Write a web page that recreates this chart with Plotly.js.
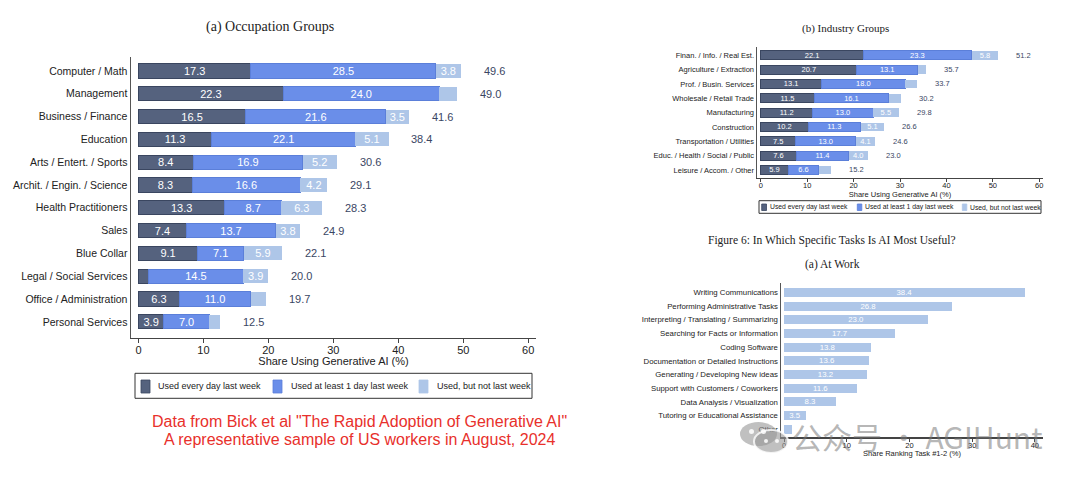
<!DOCTYPE html>
<html><head><meta charset="utf-8">
<script src="https://cdn.plot.ly/plotly-3.0.1.min.js"></script>
<style>html,body{margin:0;padding:0;background:#fff}#chart{width:1080px;height:482px}</style>
</head><body><div id="chart"></div>
<script>
// ---------- (a) Occupation Groups ----------
const occCategories = ["Computer / Math","Management","Business / Finance","Education","Arts / Entert. / Sports","Archit. / Engin. / Science","Health Practitioners","Sales","Blue Collar","Legal / Social Services","Office / Administration","Personal Services"];
const occDaily   = [17.3,22.3,16.5,11.3,8.4,8.3,13.3,7.4,9.1,1.6,6.3,3.9];
const occWeekly  = [28.5,24.0,21.6,22.1,16.9,16.6,8.7,13.7,7.1,14.5,11.0,7.0];
const occNotLast = [3.8,2.7,3.5,5.1,5.2,4.2,6.3,3.8,5.9,3.9,2.4,1.6];
const occTotal   = [49.6,49.0,41.6,38.4,30.6,29.1,28.3,24.9,22.1,20.0,19.7,12.5];

// ---------- (b) Industry Groups ----------
const indCategories = ["Finan. / Info. / Real Est.","Agriculture / Extraction","Prof. / Busin. Services","Wholesale / Retail Trade","Manufacturing","Construction","Transportation / Utilities","Educ. / Health / Social / Public","Leisure / Accom. / Other"];
const indDaily   = [22.1,20.7,13.1,11.5,11.2,10.2,7.5,7.6,5.9];
const indWeekly  = [23.3,13.1,18.0,16.1,13.0,11.3,13.0,11.4,6.6];
const indNotLast = [5.8,1.9,2.6,2.6,5.5,5.1,4.1,4.0,2.7];
const indTotal   = [51.2,35.7,33.7,30.2,29.8,26.6,24.6,23.0,15.2];

// ---------- Figure 6 (a) At Work ----------
const taskCategories = ["Writing Communications","Performing Administrative Tasks","Interpreting / Translating / Summarizing","Searching for Facts or Information","Coding Software","Documentation or Detailed Instructions","Generating / Developing New ideas","Support with Customers / Coworkers","Data Analysis / Visualization","Tutoring or Educational Assistance","Other"];
const taskShare = [38.4,26.8,23.0,17.7,13.8,13.6,13.2,11.6,8.3,3.5,1.3];

const seriesNames = ["Used every day last week","Used at least 1 day last week","Used, but not last week"];
const xTicksA = [0,10,20,30,40,50,60];
const xTicksC = [0,10,20,30,40];

const C_DARK = '#55627e', C_MID = '#6a8ee9', C_LIGHT = '#aec6e8';
const C_COLORS = [C_DARK, C_MID, C_LIGHT];
const C_LINES = ['#3a4660', '#5b7fd9', '#aec6e8'];
const SANS = 'Liberation Sans, Arial, sans-serif';
const SERIF = 'Liberation Serif, DejaVu Serif, serif';
const W = 1080, H = 482;
const px = v => v / W, py = v => 1 - v / H;
const lbl = arr => arr.map(v => v >= 3 ? v.toFixed(1) : '');

function stackTraces(cats, vals, xa, ya, fs, bw) {
  return vals.map((v, k) => ({
    type: 'bar', orientation: 'h', x: v, y: cats, xaxis: xa, yaxis: ya,
    name: seriesNames[k], showlegend: false,
    marker: {color: C_COLORS[k], line: {color: C_LINES[k], width: k === 2 ? 0 : 1}},
    text: lbl(v), textposition: 'inside', insidetextanchor: 'middle',
    textangle: 0, constraintext: 'none',
    textfont: {color: '#ffffff', size: fs, family: SANS},
    width: bw, hoverinfo: 'skip'
  }));
}

const traces = [
  ...stackTraces(occCategories, [occDaily, occWeekly, occNotLast], 'x', 'y', 11, 0.62),
  ...stackTraces(indCategories, [indDaily, indWeekly, indNotLast], 'x2', 'y2', 7.5, 0.62),
  {type: 'bar', orientation: 'h', x: taskShare, y: taskCategories, xaxis: 'x3', yaxis: 'y3',
   showlegend: false, marker: {color: C_LIGHT},
   text: lbl(taskShare), textposition: 'inside', insidetextanchor: 'middle', textangle: 0,
   constraintext: 'none', textfont: {color: '#ffffff', size: 7.8, family: SANS},
   width: 0.66, hoverinfo: 'skip'}
];

function ptext(x, y, text, font, xanchor) {
  return {xref: 'paper', yref: 'paper', x: px(x), y: py(y), text: text, showarrow: false,
    xanchor: xanchor || 'center', yanchor: 'middle', font: font};
}

const annotations = [
  ...occTotal.map((t, i) => ({xref: 'x', yref: 'y', x: t, y: occCategories[i], text: t.toFixed(1),
    showarrow: false, xanchor: 'left', yanchor: 'middle', xshift: 21, font: {size: 11, color: '#3a4663', family: SANS}})),
  ...indTotal.map((t, i) => ({xref: 'x2', yref: 'y2', x: t, y: indCategories[i], text: t.toFixed(1),
    showarrow: false, xanchor: 'left', yanchor: 'middle', xshift: 16, font: {size: 7.5, color: '#3a4663', family: SANS}})),
  ptext(270, 27, '(a) Occupation Groups', {family: SERIF, size: 14, color: '#222'}),
  ptext(845, 28, '(b) Industry Groups', {family: SERIF, size: 11, color: '#222'}),
  ptext(832, 240, 'Figure 6: In Which Specific Tasks Is AI Most Useful?', {family: SERIF, size: 11.5, color: '#222'}),
  ptext(832, 264, '(a) At Work', {family: SERIF, size: 11.5, color: '#222'}),
  ptext(359, 421, 'Data from Bick et al "The Rapid Adoption of Generative AI"', {family: SANS, size: 16, color: '#e8302b'}),
  ptext(359, 439, 'A representative sample of US workers in August, 2024', {family: SANS, size: 16, color: '#e8302b'}),
  ptext(917, 436, '公众号 · AGIHunt', {family: 'Noto Sans CJK SC, sans-serif', size: 30, color: 'rgba(120,120,120,0.55)'})
];

const shapes = [];
function rectPx(x0, x1, y0, y1, fill, line, lw) {
  shapes.push({type: 'rect', xref: 'paper', yref: 'paper', x0: px(x0), x1: px(x1), y0: py(y1), y1: py(y0),
    fillcolor: fill, line: {color: line, width: lw}});
}
// Manual legends (box, swatches, labels)
function legendBox(box, sw, tx, fs) {
  rectPx(box[0], box[1], box[2], box[3], '#ffffff', '#333333', 1);
  const cy = (box[2] + box[3]) / 2;
  sw.forEach((s, k) => {
    rectPx(s[0], s[1], s[2], s[3], C_COLORS[k], k === 2 ? C_COLORS[k] : C_LINES[k], 0.8);
    annotations.push(ptext(tx[k], cy, seriesNames[k], {family: SANS, size: fs, color: '#222'}, 'left'));
  });
}
legendBox([135, 532, 373.3, 398.3], [[141, 150, 380, 393], [273, 282, 380, 393], [419, 428, 380, 393]], [156, 288.5, 435], 9);
legendBox([759, 1041, 200.7, 213.3], [[761.7, 766.5, 204, 210.5], [857.3, 861.8, 204, 210.5], [962.3, 966.8, 204, 210.5]], [768, 862.5, 967.5], 6.8);

// watermark icon
const gray = 'rgba(150,150,150,0.6)';
function circPx(x0, x1, y0, y1, fill, line, lw) {
  shapes.push({type: 'circle', xref: 'paper', yref: 'paper', x0: px(x0), x1: px(x1), y0: py(y1), y1: py(y0),
    fillcolor: fill, line: {color: line, width: lw}});
}
circPx(740, 777, 422, 446, gray, 'rgba(0,0,0,0)', 0);
circPx(754, 788, 430, 453, gray, 'rgba(255,255,255,0.8)', 2);
circPx(749, 754, 429, 434, 'rgba(255,255,255,0.85)', 'rgba(0,0,0,0)', 0);
circPx(761, 766, 429, 434, 'rgba(255,255,255,0.85)', 'rgba(0,0,0,0)', 0);
circPx(764, 768, 439, 443, 'rgba(255,255,255,0.85)', 'rgba(0,0,0,0)', 0);
circPx(775, 779, 439, 443, 'rgba(255,255,255,0.85)', 'rgba(0,0,0,0)', 0);

function xAxis(dom, rng, ticks, anchor, fs, title, lw, tso) {
  return {domain: dom, range: rng, anchor: anchor, tickvals: ticks, ticks: 'outside', ticklen: fs > 9 ? 4 : 3,
    tickwidth: 1, tickcolor: '#444', showline: true, linecolor: '#444', linewidth: lw, showgrid: false,
    zeroline: false, fixedrange: true, automargin: false, ticklabelstandoff: tso,
    tickfont: {size: fs, color: '#222', family: SANS},
    title: {text: title, font: {size: fs, color: '#222', family: SANS}, standoff: 0}};
}
function yAxis(dom, rng, anchor, fs, lw) {
  return {domain: dom, range: rng, anchor: anchor, type: 'category', showline: true, linecolor: '#555',
    linewidth: lw, ticks: '', showgrid: false, zeroline: false, fixedrange: true, automargin: false,
    tickfont: {size: fs, color: '#222', family: SANS}};
}

const layout = {
  width: W, height: H, margin: {l: 0, r: 0, t: 0, b: 0, autoexpand: false},
  paper_bgcolor: '#fff', plot_bgcolor: 'rgba(0,0,0,0)',
  barmode: 'stack', showlegend: false,
  font: {family: SANS, color: '#222'},
  xaxis: xAxis([px(131), px(536)], [-1.15, 61.2], xTicksA, 'y', 11, 'Share Using Generative AI (%)', 1.5, -3),
  yaxis: yAxis([py(337.8), py(57.3)], [11.7, -0.6], 'x', 10.5, 1.5),
  xaxis2: xAxis([px(757), px(1043)], [-0.8, 60.8], xTicksA, 'y2', 7.5, 'Share Using Generative AI (%)', 1.2, -3),
  yaxis2: yAxis([py(177.7), py(47)], [8.54, -0.58], 'x2', 7.5, 1.5),
  xaxis3: xAxis([px(781), px(1043)], [-0.48, 41.3], xTicksC, 'y3', 7.5, 'Share Ranking Task #1-2 (%)', 1.2, -3),
  yaxis3: yAxis([py(437.3), py(283)], [10.58, -0.68], 'x3', 7.8, 1.5),
  annotations: annotations,
  shapes: shapes,
  hovermode: false
};

Plotly.newPlot('chart', traces, layout, {displayModeBar: false, staticPlot: true});
</script>
</body></html>
